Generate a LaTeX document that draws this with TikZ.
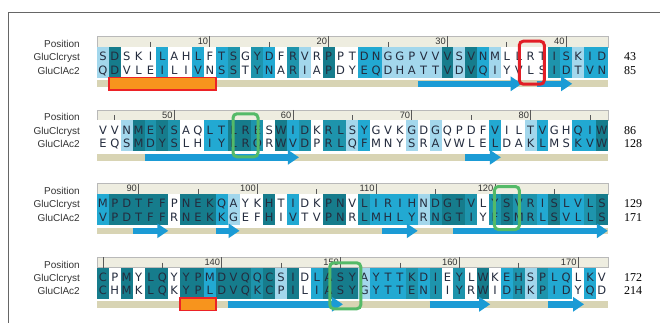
\documentclass[tikz,border=0pt]{standalone}
\usepackage{fontspec}
\usepackage{xcolor}
\usepackage{tikz}
\usetikzlibrary{arrows.meta, positioning}
\newfontfamily\seqfont{DejaVu Sans}
\newfontfamily\lblfont{Liberation Sans}
\newfontfamily\numfont{Liberation Serif}
\definecolor{lev0}{RGB}{255,255,255}
\definecolor{lev1}{RGB}{163,215,236}
\definecolor{lev2}{RGB}{34,169,210}
\definecolor{lev3}{RGB}{30,148,172}
\definecolor{lev4}{RGB}{22,124,140}
\definecolor{seqtext}{RGB}{36,44,62}
\definecolor{trackbg}{RGB}{216,212,180}
\definecolor{rulerbg}{RGB}{238,237,224}
\definecolor{strandblue}{RGB}{27,155,213}
\definecolor{helixorange}{RGB}{247,148,29}
\definecolor{helixred}{RGB}{236,34,39}
\definecolor{boxgreen}{RGB}{84,186,104}
\definecolor{boxred}{RGB}{226,30,38}
\tikzset{
    res/.style={font={\seqfont\fontsize{11.5}{13}\selectfont}, text=seqtext,
                inner sep=0pt, text height=8.4pt, text depth=0pt},
    rowlbl/.style={font={\lblfont\fontsize{10}{11}\selectfont}, text=black!80,
                   anchor=east, inner sep=0pt, text height=7pt, text depth=0pt},
    endnum/.style={font={\numfont\fontsize{12}{13}\selectfont}, anchor=west,
                   inner sep=0pt, text height=8pt, text depth=0pt},
    rulenum/.style={font={\lblfont\fontsize{9.3}{10}\selectfont}, text=black!80,
                    anchor=east, inner sep=0.5pt, text height=6.5pt, text depth=0pt},
    rulerband/.style={fill=rulerbg, draw=gray!55, line width=0.6pt},
    rulertick/.style={draw=black!65, line width=0.8pt},
    track/.style={fill=trackbg},
    strand/.style={draw=strandblue, line width=6.5pt,
                   -{Triangle[length=11pt, width=14pt]}},
    helix/.style={fill=helixorange, draw=helixred, line width=1.5pt},
    keyred/.style={draw=boxred, line width=3pt, rounded corners=4pt,
                   minimum width=25pt, minimum height=43pt, inner sep=0pt},
    keygreen/.style={keyred, draw=boxgreen},
    outline/.style={draw=black!60, line width=0.8pt},
}
\begin{document}
\begin{tikzpicture}[x=1pt, y=-1pt]
    \useasboundingbox (0,0) rectangle (660,323);
    \draw[outline] (660,12) -- (8,12) -- (8,323);

    % block 1: positions 1-43
    \begin{scope}
        \node[rowlbl] (pos1) at (80,44) {Position};
        \node[rowlbl, below left=6pt and 0pt of pos1.south east] (cry1) {GluClcryst};
        \node[rowlbl, below left=6pt and 0pt of cry1.south east] (acl1) {GluClAc2};
        \draw[rulerband] (97,36.5) rectangle (608,47);
        \foreach \i/\n in {10/10,20/20,30/30,40/40} {
            \draw[rulertick] ({97+(\i-0.5)*11.88},36.5) -- ++(0,10.5);
            \node[rulenum] (t1-\i) at ({97+(\i-0.5)*11.88-1},41.5) {\n};
        }
        \foreach \i in {5,15,25,35}
            \draw[rulertick] ({97+(\i-0.5)*11.88},42) -- ++(0,5);
        \foreach \a/\b/\lv [count=\i] in {S/Q/1,D/D/4,S/V/0,K/L/0,I/E/0,L/I/2,A/L/0,H/I/0,
            L/V/2,F/N/0,T/S/2,S/S/3,G/T/0,Y/Y/3,D/N/2,F/A/0,R/R/3,V/I/1,R/A/0,P/P/4,P/D/0,
            T/Y/0,D/E/2,N/Q/2,G/D/1,G/H/1,P/A/1,V/T/1,V/T/1,V/V/4,S/D/1,V/V/4,N/Q/2,M/I/1,
            L/Y/0,L/V/0,R/L/0,T/S/0,I/I/3,S/D/2,K/T/1,I/V/2,D/N/2} {
            \fill[lev\lv] ({97+(\i-1)*11.88},47) rectangle ++(12,31);
            \node[res] (cry1-\i) at ({97+(\i-0.5)*11.88},56.7) {\a};
            \node[res] (acl1-\i) at ({97+(\i-0.5)*11.88},70.2) {\b};
        }
        \fill[track] (97,80.5) rectangle (608,87);
        \draw[helix] ({97+1*11.88},77.5) rectangle ({97+10*11.88},90);
        \foreach \s/\e in {27/35.75,37/40}
            \draw[strand] ({97+\s*11.88},83.8) -- ({97+\e*11.88},83.8);
        \node[endnum] (end1a) at (624,56.7) {43};
        \node[endnum] (end1b) at (624,70.2) {85};
        \node[keyred] (mark1) at ({97+36.6*11.88},62.7) {};
    \end{scope}

    % block 2: positions 44-86
    \begin{scope}[yshift=-73.5pt]
        \node[rowlbl] (pos2) at (80,44) {Position};
        \node[rowlbl, below left=6pt and 0pt of pos2.south east] (cry2) {GluClcryst};
        \node[rowlbl, below left=6pt and 0pt of cry2.south east] (acl2) {GluClAc2};
        \draw[rulerband] (97,36.5) rectangle (608,47);
        \foreach \i/\n in {7/50,17/60,27/70,37/80} {
            \draw[rulertick] ({97+(\i-0.5)*11.88},36.5) -- ++(0,10.5);
            \node[rulenum] (t2-\i) at ({97+(\i-0.5)*11.88-1},41.5) {\n};
        }
        \foreach \i in {2,12,22,32,42}
            \draw[rulertick] ({97+(\i-0.5)*11.88},42) -- ++(0,5);
        \foreach \a/\b/\lv [count=\i] in {V/E/0,V/Q/0,N/S/1,M/M/4,E/D/3,Y/Y/4,S/S/3,A/L/0,
            Q/H/0,L/I/2,T/Y/2,L/L/4,R/R/4,E/Q/3,S/R/0,W/W/4,I/V/2,D/D/3,K/P/0,R/R/3,L/L/3,
            S/Q/1,Y/F/2,G/M/0,V/N/0,K/Y/0,G/S/1,D/R/0,G/A/1,Q/V/0,P/W/0,D/L/0,F/E/0,V/L/2,
            I/D/0,L/A/0,T/K/1,V/L/2,G/M/0,H/S/0,Q/K/2,I/V/2,W/W/4} {
            \fill[lev\lv] ({97+(\i-1)*11.88},47) rectangle ++(12,31);
            \node[res] (cry2-\i) at ({97+(\i-0.5)*11.88},56.7) {\a};
            \node[res] (acl2-\i) at ({97+(\i-0.5)*11.88},70.2) {\b};
        }
        \fill[track] (97,80.5) rectangle (608,87);
        \foreach \s/\e in {4/17,31/34}
            \draw[strand] ({97+\s*11.88},83.8) -- ({97+\e*11.88},83.8);
        \node[endnum] (end2a) at (624,56.7) {86};
        \node[endnum] (end2b) at (624,70.2) {128};
        \node[keygreen] (mark2) at ({97+12.5*11.88},61.8) {};
    \end{scope}

    % block 3: positions 87-129
    \begin{scope}[yshift=-147pt]
        \node[rowlbl] (pos3) at (80,44) {Position};
        \node[rowlbl, below left=6pt and 0pt of pos3.south east] (cry3) {GluClcryst};
        \node[rowlbl, below left=6pt and 0pt of cry3.south east] (acl3) {GluClAc2};
        \draw[rulerband] (97,36.5) rectangle (608,47);
        \foreach \i/\n in {4/90,14/100,24/110,34/120} {
            \draw[rulertick] ({97+(\i-0.5)*11.88},36.5) -- ++(0,10.5);
            \node[rulenum] (t3-\i) at ({97+(\i-0.5)*11.88-1},41.5) {\n};
        }
        \foreach \i in {9,19,29,39}
            \draw[rulertick] ({97+(\i-0.5)*11.88},42) -- ++(0,5);
        \foreach \a/\b/\lv [count=\i] in {M/V/2,P/P/4,D/D/4,T/T/4,F/F/4,F/F/4,P/R/0,N/N/4,
            E/E/4,K/K/4,Q/K/2,A/G/1,Y/E/0,K/F/0,H/H/4,T/I/0,I/V/2,D/T/0,K/V/0,P/P/4,N/N/4,
            V/R/0,L/L/3,I/M/2,R/H/2,I/L/2,H/Y/2,N/R/1,D/N/3,G/G/4,T/T/4,V/I/3,L/Y/0,Y/F/3,
            S/S/4,V/M/3,R/R/3,I/L/2,S/S/4,L/V/2,V/L/2,L/L/3,S/S/4} {
            \fill[lev\lv] ({97+(\i-1)*11.88},47) rectangle ++(12,31);
            \node[res] (cry3-\i) at ({97+(\i-0.5)*11.88},56.7) {\a};
            \node[res] (acl3-\i) at ({97+(\i-0.5)*11.88},70.2) {\b};
        }
        \fill[track] (97,80.5) rectangle (608,87);
        \foreach \s/\e in {3/6,10/12,24/27,30/43}
            \draw[strand] ({97+\s*11.88},83.8) -- ({97+\e*11.88},83.8);
        \node[endnum] (end3a) at (624,56.7) {129};
        \node[endnum] (end3b) at (624,70.2) {171};
        \node[keygreen] (mark3) at ({97+34.5*11.88},61) {};
    \end{scope}

    % block 4: positions 130-172
    \begin{scope}[yshift=-220.5pt]
        \node[rowlbl] (pos4) at (80,44) {Position};
        \node[rowlbl, below left=6pt and 0pt of pos4.south east] (cry4) {GluClcryst};
        \node[rowlbl, below left=6pt and 0pt of cry4.south east] (acl4) {GluClAc2};
        \draw[rulerband] (97,36.5) rectangle (608,47);
        \draw[rulertick] ({97+0.5*11.88},36.5) -- ++(0,10.5);
        \foreach \i/\n in {11/140,21/150,31/160,41/170} {
            \draw[rulertick] ({97+(\i-0.5)*11.88},36.5) -- ++(0,10.5);
            \node[rulenum] (t4-\i) at ({97+(\i-0.5)*11.88-1},41.5) {\n};
        }
        \foreach \i in {6,16,26,36}
            \draw[rulertick] ({97+(\i-0.5)*11.88},42) -- ++(0,5);
        \foreach \a/\b/\lv [count=\i] in {C/C/4,P/H/0,M/M/4,Y/K/0,L/L/4,Q/Q/4,Y/K/0,Y/Y/4,
            P/P/4,M/L/2,D/D/4,V/V/4,Q/Q/4,Q/K/3,C/C/4,S/P/1,I/I/4,D/L/0,L/I/2,A/A/4,S/S/4,
            Y/Y/4,A/G/1,Y/Y/2,T/T/2,T/T/2,K/E/3,D/N/2,I/I/3,E/I/0,Y/Y/3,L/R/0,W/W/4,K/I/0,
            E/D/2,H/H/3,S/K/1,P/P/3,L/I/2,Q/D/2,L/Y/0,K/Q/2,V/D/0} {
            \fill[lev\lv] ({97+(\i-1)*11.88},47) rectangle ++(12,31);
            \node[res] (cry4-\i) at ({97+(\i-0.5)*11.88},56.7) {\a};
            \node[res] (acl4-\i) at ({97+(\i-0.5)*11.88},70.2) {\b};
        }
        \fill[track] (97,80.5) rectangle (608,87);
        \draw[helix] ({97+7*11.88},77.5) rectangle ({97+10*11.88},90);
        \foreach \s/\e in {11/20.7,28/33.1,38/41}
            \draw[strand] ({97+\s*11.88},83.8) -- ({97+\e*11.88},83.8);
        \node[endnum] (end4a) at (624,56.7) {172};
        \node[endnum] (end4b) at (624,70.2) {214};
        \node[keygreen, minimum width=31pt, minimum height=46pt] (mark4) at ({97+20.9*11.88},65.3) {};
    \end{scope}
\end{tikzpicture}
\end{document}
